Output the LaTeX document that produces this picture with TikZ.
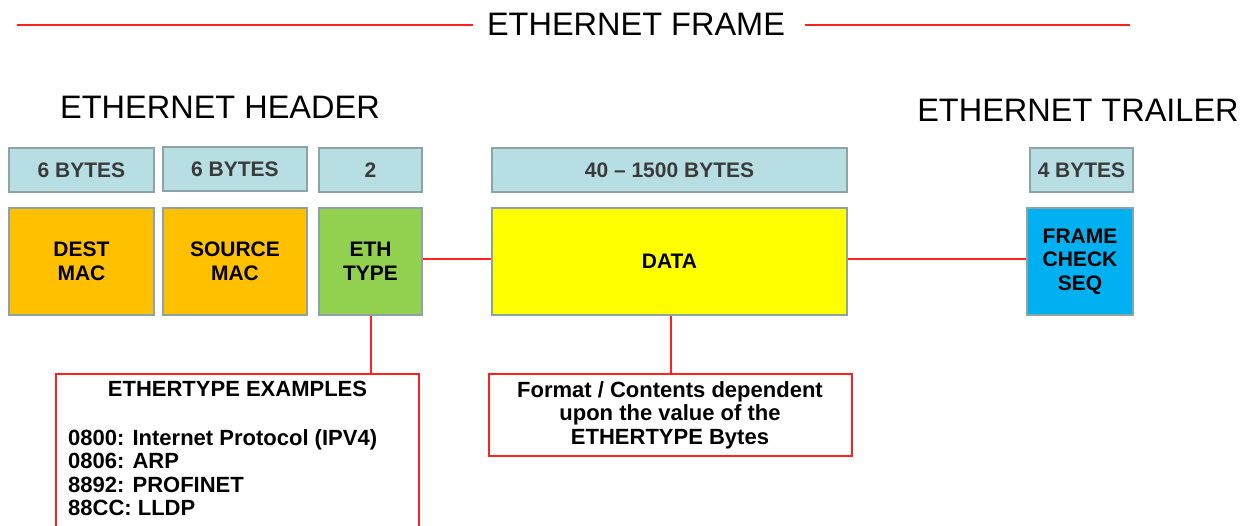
\documentclass[tikz,border=0pt]{standalone}
\usepackage{fontspec}
\setmainfont{Liberation Sans}
\usepackage{tikz}

\definecolor{sizeblue}{HTML}{B7DEE2}
\definecolor{edgegray}{HTML}{8EA3A6}
\definecolor{macorange}{HTML}{FFC000}
\definecolor{typegreen}{HTML}{92D050}
\definecolor{datayellow}{HTML}{FFFF00}
\definecolor{fcsblue}{HTML}{00B0F0}
\definecolor{linered}{HTML}{FF2020}
\definecolor{textgray}{HTML}{3A3A3A}

\begin{document}
\begin{tikzpicture}[x=1pt, y=-1pt, every node/.style={inner sep=0pt},
	sizebox/.style={rectangle, draw=edgegray, line width=2pt, fill=sizeblue, text=textgray,
		minimum height=44pt, font=\fontsize{21}{23}\selectfont\bfseries},
	fieldbox/.style={rectangle, draw=edgegray, line width=2pt, align=center,
		minimum height=107pt, font=\fontsize{21}{23.5}\selectfont\bfseries},
	notebox/.style={rectangle, draw=linered, line width=2pt},
	notetext/.style={font=\fontsize{22}{23.5}\selectfont\bfseries},
	redline/.style={draw=linered, line width=2pt},
	heading/.style={anchor=base, font=\fontsize{32.5}{36}\selectfont}]
	\useasboundingbox (0,0) rectangle (1250,525);
	\clip (0,0) rectangle (1250,525);
	% titles
	\node[heading] (frame)   at (636,35)  {ETHERNET FRAME};
	\node[heading] (header)  at (220,118) {ETHERNET HEADER};
	\node[heading] (trailer) at (1078,121) {ETHERNET TRAILER};
	\coordinate (fl1) at (17,25);
	\coordinate (fl2) at (473,25);
	\coordinate (fr1) at (805,25);
	\coordinate (fr2) at (1130,25);
	\draw[redline] (fl1) -- (fl2);
	\draw[redline] (fr1) -- (fr2);
	% byte counts
	\node[sizebox, minimum width=145pt] (s1) at (81.5,170)  {6 BYTES};
	\node[sizebox, minimum width=144pt] (s2) at (235,169)   {6 BYTES};
	\node[sizebox, minimum width=103pt] (s3) at (370.5,170) {2};
	\node[sizebox, minimum width=355pt] (s4) at (669.5,170) {40 -- 1500 BYTES};
	\node[sizebox, minimum width=103pt] (s5) at (1081.5,170) {4 BYTES};
	% fields
	\node[fieldbox, fill=macorange,  minimum width=145pt] (dmac)  at (81.5,261.5)  {DEST\\MAC};
	\node[fieldbox, fill=macorange,  minimum width=144pt] (smac)  at (235,261.5)   {SOURCE\\MAC};
	\node[fieldbox, fill=typegreen,  minimum width=103pt] (etype) at (370.5,261.5) {ETH\\TYPE};
	\node[fieldbox, fill=datayellow, minimum width=355pt] (data)  at (669.5,261.5) {DATA};
	\node[fieldbox, fill=fcsblue,    minimum width=106pt] (fcs)   at (1080,261.5)  {FRAME\\CHECK\\SEQ};
	% notes
	\node[notebox, anchor=north, minimum width=363pt, minimum height=200pt] (exbox) at (237,373) {};
	\node[notetext, anchor=base] (exhead) at (237.5,396) {ETHERTYPE EXAMPLES};
	\node[notetext, anchor=north west, align=left] (exlist) at (68,429)
		{0800: Internet Protocol (IPV4)\\0806: ARP\\8892: PROFINET\\88CC: LLDP};
	\node[notebox, notetext, align=center, minimum width=363pt, minimum height=82pt] (note) at (670,415)
		{Format / Contents dependent\\upon the value of the\\ETHERTYPE Bytes};
	\foreach \from/\to in {etype/data, data/fcs}
	\draw[redline] ([yshift=2.5pt]\from.east) -- ([yshift=2.5pt]\to.west);
	\draw[redline] ([xshift=0.5pt]etype.south) -- ([xshift=0.5pt]etype.south |- exbox.north);
	\draw[redline] ([xshift=1.5pt]data.south) -- ([xshift=1.5pt]data.south |- note.north);
\end{tikzpicture}
\end{document}
